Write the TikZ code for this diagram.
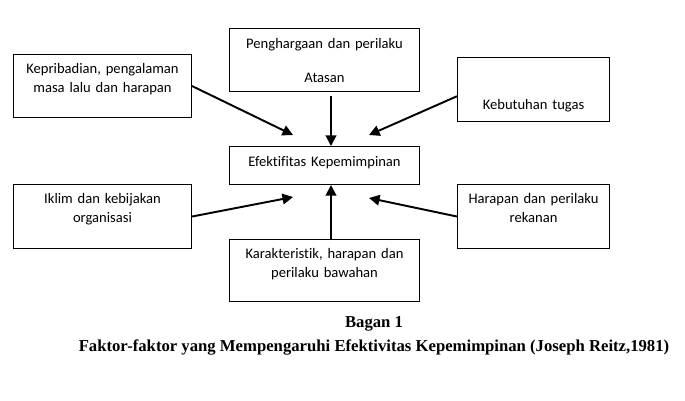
\documentclass[tikz,border=0pt]{standalone}
\usepackage{fontspec}
\setmainfont{Liberation Serif}
\newfontfamily\kotakfont[Ligatures=NoCommon]{Carlito}
\usetikzlibrary{arrows.meta}
\tikzset{kotak/.style = {draw, line width=.6pt, anchor=north west, inner sep=0pt,
    align=center, font=\kotakfont\fontsize{8.3}{10.8}\selectfont},
  panah/.style = {line width=1.1pt, -{Triangle[length=6pt,width=6pt]}},
  judul/.style = {anchor=base, font=\bfseries\fontsize{9.5}{11}\selectfont}}

\begin{document}
\begin{tikzpicture}[x=0.02cm, y=-0.02cm]
      \useasboundingbox (0,0) rectangle (685,400);
      \node[kotak, text width=3.56cm, text height=.386cm, text depth=.874cm] (kep) at (13,54)
        {Kepribadian, pengalaman\\ masa lalu dan harapan};
      \node[kotak, text width=3.8cm, text height=.394cm, text depth=.866cm] (peng) at (229,28)
        {Penghargaan dan perilaku\\[8.5pt] Atasan};
      \node[kotak, text width=3.04cm, text height=1.046cm, text depth=.234cm] (keb) at (457,57)
        {Kebutuhan tugas};
      \node[kotak, text width=3.8cm, text height=.4cm, text depth=.36cm] (efek) at (229,146)
        {Efektifitas Kepemimpinan};
      \node[kotak, text width=3.56cm, text height=.374cm, text depth=.906cm] (iklim) at (13,184)
        {Iklim dan kebijakan\\ organisasi};
      \node[kotak, text width=3.04cm, text height=.374cm, text depth=.906cm] (harap) at (457,184)
        {Harapan dan perilaku\\ rekanan};
      \node[kotak, text width=3.8cm, text height=.386cm, text depth=.854cm] (karak) at (229,239)
        {Karakteristik, harapan dan\\ perilaku bawahan};
      \coordinate (t1) at (293,135);
      \coordinate (t2) at (331,146);
      \coordinate (t3) at (369,135);
      \coordinate (t4) at (293,197);
      \coordinate (t5) at (331,185);
      \coordinate (t6) at (369,198);
      \draw[panah] (kep.east) -- (t1);
      \draw[panah, shorten <=2pt] (peng.south -| t2) -- (t2);
      \draw[panah] (keb.185) -- (t3);
      \draw[panah] (iklim.east) -- (t4);
      \draw[panah] (karak.north -| t5) -- (t5);
      \draw[panah] (harap.west) -- (t6);
      \node[judul] (bagan) at (374,327) {Bagan 1};
      \node[judul] (cap) at (374,351)
        {Faktor-faktor yang Mempengaruhi Efektivitas Kepemimpinan (Joseph Reitz,1981)};
    \end{tikzpicture}
\end{document}
